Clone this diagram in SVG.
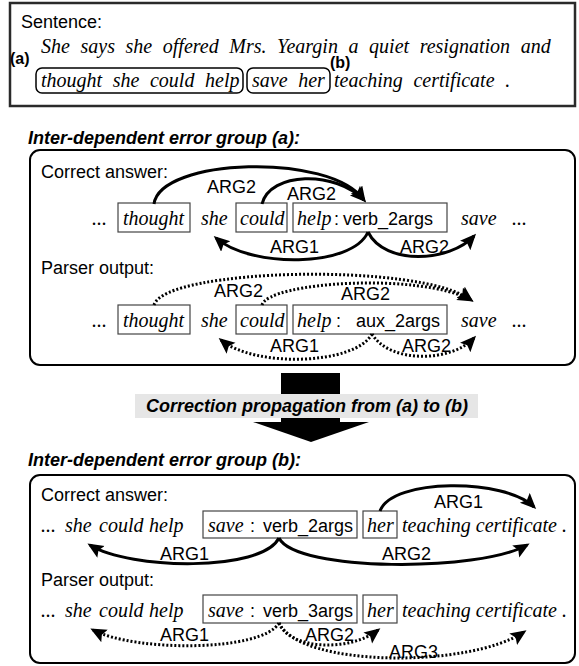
<svg xmlns="http://www.w3.org/2000/svg" width="579" height="666" viewBox="0 0 579 666">
  <style>
    .frame { fill: #fff; stroke: #2a2a2a; stroke-width: 2.5; }
    .panel { fill: #fff; stroke: #000; stroke-width: 2; }
    .span { fill: none; stroke: #000; stroke-width: 1.5; }
    .tok { fill: none; stroke: #444; stroke-width: 1.2; }
    .it { font-family: "Liberation Serif", "Times New Roman", serif; font-style: italic; font-size: 20px; fill: #000; }
    .sent { word-spacing: 5.6px; }
    .sans { font-family: "Liberation Sans", Arial, sans-serif; font-size: 18px; fill: #000; }
    .tag { font-family: "Liberation Sans", Arial, sans-serif; font-size: 16px; font-weight: bold; fill: #000; }
    .head { font-family: "Liberation Sans", Arial, sans-serif; font-size: 18px; font-weight: bold; font-style: italic; fill: #000; }
    .arc { fill: none; stroke: #000; stroke-width: 3; marker-end: url(#ah); }
    .dot { fill: none; stroke: #000; stroke-width: 3; stroke-dasharray: 2 2; marker-end: url(#ah); }
  </style>
  <defs>
    <marker id="ah" markerUnits="userSpaceOnUse" markerWidth="20" markerHeight="16" refX="13" refY="7" orient="auto">
      <path d="M0,0 L16,7 L0,14 L3,7 z" fill="#000"/>
    </marker>
  </defs>

  <!-- sentence panel -->
  <g id="sentence">
    <rect class="frame" x="10" y="3" width="565" height="103"/>
    <text class="sans" x="21" y="28">Sentence:</text>
    <text class="it sent" x="41" y="53">She says she offered Mrs. Yeargin a quiet resignation and</text>
    <text class="tag" x="10" y="64">(a)</text>
    <rect class="span" x="36" y="68" width="207" height="25" rx="6"/>
    <text class="it sent" x="41" y="87">thought she could help</text>
    <rect class="span" x="247" y="68" width="83" height="25" rx="6"/>
    <text class="it sent" x="252" y="87">save her</text>
    <text class="tag" x="330" y="68">(b)</text>
    <text class="it sent" x="334" y="87">teaching certificate .</text>
  </g>

  <!-- error group (a) -->
  <g id="group-a">
    <text class="head" x="28" y="144">Inter-dependent error group (a):</text>
    <rect class="panel" x="30" y="150" width="545" height="215" rx="10"/>
    <text class="sans" x="41" y="178">Correct answer:</text>
    <text class="it" x="92" y="225">...</text>
    <rect class="tok" x="118" y="203" width="72" height="29"/>
    <text class="it" x="123" y="225">thought</text>
    <text class="it" x="201" y="225">she</text>
    <rect class="tok" x="236" y="203" width="51" height="29"/>
    <text class="it" x="240" y="225">could</text>
    <rect class="tok" x="293" y="203" width="154" height="29"/>
    <text class="it" x="297" y="225">help</text>
    <text class="sans" x="334" y="225">:</text>
    <text class="sans" x="343" y="225">verb_2args</text>
    <text class="it" x="461" y="225">save</text>
    <text class="it" x="512" y="225">...</text>

    <text class="sans" x="41" y="274">Parser output:</text>
    <text class="it" x="92" y="327">...</text>
    <rect class="tok" x="118" y="305" width="72" height="29"/>
    <text class="it" x="123" y="327">thought</text>
    <text class="it" x="201" y="327">she</text>
    <rect class="tok" x="236" y="305" width="51" height="29"/>
    <text class="it" x="240" y="327">could</text>
    <rect class="tok" x="293" y="305" width="154" height="29"/>
    <text class="it" x="297" y="327">help</text>
    <text class="sans" x="336" y="327">:</text>
    <text class="sans" x="356" y="327">aux_2args</text>
    <text class="it" x="461" y="327">save</text>
    <text class="it" x="512" y="327">...</text>
  </g>

  <!-- propagation arrow -->
  <g id="propagation">
    <rect x="281" y="373" width="59" height="50" fill="#000"/>
    <polygon points="253,422 369,422 311,442" fill="#000"/>
    <rect x="135" y="394" width="343" height="24" fill="#e6e6e6"/>
    <text class="head" x="307" y="412" text-anchor="middle">Correction propagation from (a) to (b)</text>
  </g>

  <!-- error group (b) -->
  <g id="group-b">
    <text class="head" x="28" y="466">Inter-dependent error group (b):</text>
    <rect class="panel" x="30" y="475" width="545" height="188" rx="10"/>
    <text class="sans" x="41" y="501">Correct answer:</text>
    <text class="it" x="41" y="532">...</text>
    <text class="it" x="65" y="532">she</text>
    <text class="it" x="99" y="532">could</text>
    <text class="it" x="149" y="532">help</text>
    <rect class="tok" x="203" y="511" width="154" height="27"/>
    <text class="it" x="208" y="532">save</text>
    <text class="sans" x="250" y="532">:</text>
    <text class="sans" x="263" y="532">verb_2args</text>
    <rect class="tok" x="363" y="511" width="34" height="27"/>
    <text class="it" x="367" y="532">her</text>
    <text class="it" x="402" y="532">teaching certificate .</text>

    <text class="sans" x="41" y="586">Parser output:</text>
    <text class="it" x="41" y="617">...</text>
    <text class="it" x="65" y="617">she</text>
    <text class="it" x="99" y="617">could</text>
    <text class="it" x="149" y="617">help</text>
    <rect class="tok" x="203" y="595" width="154" height="28"/>
    <text class="it" x="208" y="617">save</text>
    <text class="sans" x="250" y="617">:</text>
    <text class="sans" x="263" y="617">verb_3args</text>
    <rect class="tok" x="363" y="595" width="34" height="28"/>
    <text class="it" x="367" y="617">her</text>
    <text class="it" x="402" y="617">teaching certificate .</text>
  </g>

  <!-- dependency arcs and their role labels -->
  <g id="connectors">
    <!-- (a) correct -->
    <path class="arc" d="M154,204 C160,158 330,152 364,200"/>
    <path class="arc" d="M262,204 C270,172 335,170 364,200"/>
    <path class="arc" d="M368,232 C352,268 250,268 216,238"/>
    <path class="arc" d="M368,232 C385,266 450,262 474,236"/>
    <text class="sans" x="207" y="193">ARG2</text>
    <text class="sans" x="287" y="200">ARG2</text>
    <text class="sans" x="270" y="253">ARG1</text>
    <text class="sans" x="400" y="253">ARG2</text>

    <!-- (a) parser -->
    <path class="dot" d="M154,305 C165,268 420,262 471,300"/>
    <path class="dot" d="M262,305 C268,282 420,272 471,300"/>
    <path class="dot" d="M372,334 C355,365 255,368 221,340"/>
    <path class="dot" d="M372,334 C390,364 452,362 474,338"/>
    <text class="sans" x="214" y="297">ARG2</text>
    <text class="sans" x="341" y="300">ARG2</text>
    <text class="sans" x="270" y="352">ARG1</text>
    <text class="sans" x="402" y="352">ARG2</text>

    <!-- (b) correct -->
    <path class="arc" d="M380,511 C392,478 505,478 534,507"/>
    <path class="arc" d="M279,538 C262,572 130,570 90,545"/>
    <path class="arc" d="M279,538 C296,572 480,572 527,545"/>
    <text class="sans" x="434" y="508">ARG1</text>
    <text class="sans" x="160" y="560">ARG1</text>
    <text class="sans" x="382" y="560">ARG2</text>

    <!-- (b) parser -->
    <path class="dot" d="M279,623 C262,652 135,652 93,630"/>
    <path class="dot" d="M279,623 C290,650 350,652 378,630"/>
    <path class="dot" d="M279,623 C300,668 470,668 524,632"/>
    <text class="sans" x="160" y="641">ARG1</text>
    <text class="sans" x="305" y="641">ARG2</text>
    <text class="sans" x="389" y="658">ARG3</text>
  </g>
</svg>
